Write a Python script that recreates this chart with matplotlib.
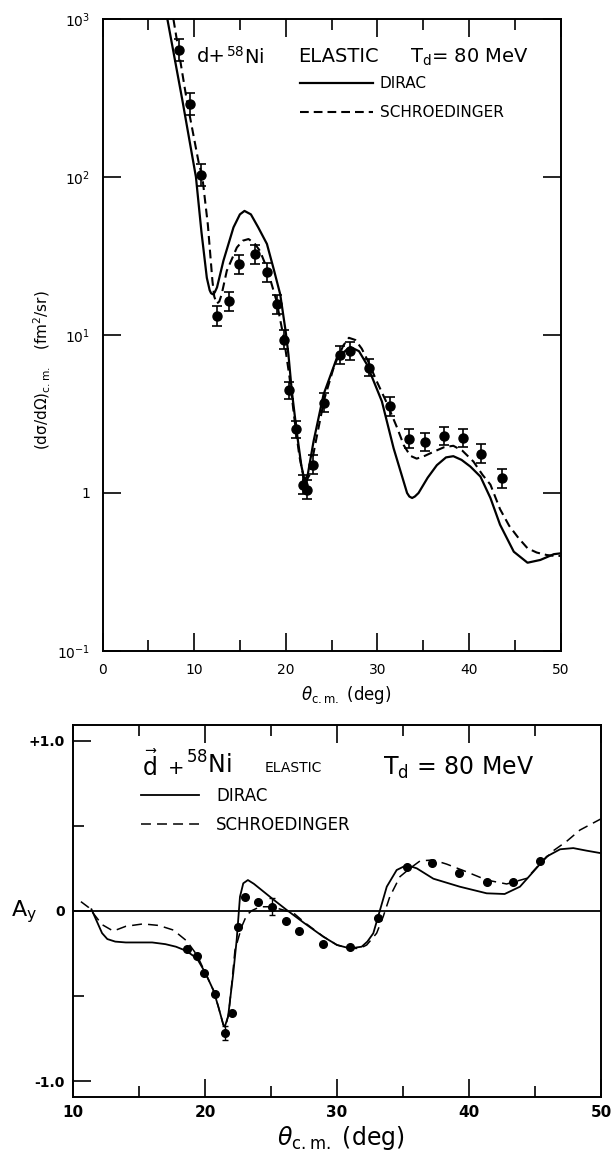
import numpy as np
import matplotlib
matplotlib.use("Agg")
import matplotlib.pyplot as plt
from matplotlib.ticker import FixedLocator, NullLocator

plt.rcParams['font.family'] = ['DejaVu Sans']
plt.rcParams['mathtext.fontset'] = 'dejavusans'

# ---------------- top panel: cross section ----------------
xs_theta = [8.4, 9.56, 10.77, 12.5, 13.8, 14.9, 16.7, 17.98, 19.0, 19.76, 20.35, 21.07,
            21.88, 22.35, 22.93, 24.17, 25.96, 26.98, 29.1, 31.35, 33.46, 35.25, 37.3,
            39.4, 41.37, 43.66]
xs_value = [635, 288, 103, 13.2, 16.4, 28, 32.5, 24.9, 15.7, 9.3, 4.46, 2.53,
            1.13, 1.05, 1.51, 3.72, 7.46, 7.9, 6.2, 3.55, 2.21, 2.10, 2.29,
            2.23, 1.77, 1.24]
xs_err_dex = [0.07, 0.07, 0.07, 0.065, 0.06, 0.06, 0.06, 0.06, 0.06, 0.06, 0.055, 0.055,
              0.06, 0.06, 0.06, 0.06, 0.055, 0.055, 0.055, 0.06, 0.06, 0.055, 0.055,
              0.055, 0.06, 0.06]

dirac_xs_theta = [7.08, 8.72, 10.2, 10.8, 11.39, 11.7, 11.85, 12.04, 12.25, 12.5, 13.2, 14.3,
                  15.0, 15.5, 16.2, 17.0, 17.95, 18.7, 19.4, 20.0, 20.3, 20.67, 21.2, 21.7,
                  22.05, 22.4, 23.04, 24.13, 25.6, 27.05, 28.0, 28.87, 30.5, 31.78, 33.25,
                  33.5, 33.8, 34.1, 34.5, 35.5, 36.5, 37.5, 38.3, 39.2, 40.16, 41.26, 42.35,
                  43.4, 44.9, 46.4, 47.8, 49.27, 50.0]
dirac_xs_value = [1000, 306, 100, 45, 23, 19.2, 18.4, 18.1, 18.6, 20, 29.5, 48,
                  58, 61, 58, 48, 37.7, 26, 18.1, 10.5, 7.5, 4.4, 2.45, 1.5,
                  1.2, 1.3, 2.12, 4.2, 7.2, 8.4, 7.9, 6.5, 3.8, 1.92, 1.0,
                  0.95, 0.93, 0.95, 1.0, 1.25, 1.5, 1.68, 1.71, 1.62, 1.47, 1.27, 0.93,
                  0.63, 0.425, 0.362, 0.377, 0.41, 0.415]

schr_xs_theta = [7.74, 9.2, 10.47, 10.9, 11.5, 12.0, 12.2, 12.48, 12.75, 13.0, 13.57, 14.67,
                 15.3, 15.94, 16.6, 17.2, 18.0, 19.0, 19.8, 20.4, 21.0, 21.5, 22.1, 22.6,
                 23.2, 24.2, 25.3, 26.3, 26.9, 27.6, 28.3, 29.0, 30.0, 30.87, 31.5, 32.15,
                 32.9, 33.6, 34.3, 35.2, 36.2, 37.3, 38.3, 39.3, 40.5, 41.5, 42.35, 43.4,
                 44.4, 45.4, 46.4, 47.4, 48.5, 49.3, 50.0]
schr_xs_value = [1000, 306, 126, 100, 50, 22, 17.5, 15.8, 16.3, 18, 25.5, 35.8,
                 39.5, 40.5, 38, 34, 26, 16.4, 9.5, 5.5, 2.8, 1.7, 1.15, 1.3,
                 2.0, 3.9, 6.4, 8.6, 9.6, 9.3, 8.2, 6.8, 5.0, 3.9, 3.2, 2.6,
                 2.0, 1.72, 1.65, 1.72, 1.83, 1.95, 1.99, 1.85, 1.58, 1.3, 1.13, 0.79,
                 0.62, 0.52, 0.447, 0.42, 0.405, 0.40, 0.40]

# ---------------- bottom panel: analyzing power ----------------
ay_theta = [18.63, 19.4, 19.93, 20.75, 21.5, 22.04, 22.52, 23.03, 24.04, 25.05, 26.14,
            27.1, 28.92, 30.98, 33.08, 35.3, 37.17, 39.26, 41.34, 43.36, 45.38]
ay_value = [-0.226, -0.267, -0.363, -0.489, -0.716, -0.60, -0.094, 0.08, 0.053, 0.025,
            -0.057, -0.12, -0.194, -0.214, -0.043, 0.258, 0.284, 0.225, 0.172, 0.172, 0.292]
ay_err = [0, 0, 0, 0, 0.04, 0, 0, 0, 0, 0.05, 0,
          0, 0, 0, 0, 0, 0, 0, 0, 0, 0]

dirac_ay_theta = [11.4, 11.8, 12.2, 12.6, 13.2, 14.0, 15.0, 16.0, 17.0, 17.8, 18.6, 19.4,
                  20.0, 20.63, 21.0, 21.39, 21.5, 21.75, 22.14, 22.4, 22.65, 22.9, 23.25,
                  23.7, 24.5, 25.3, 26.19, 27.5, 28.96, 30.0, 30.98, 31.87, 32.3, 32.75,
                  33.26, 33.77, 34.52, 35.28, 36.04, 37.3, 39.3, 41.34, 42.7, 43.86, 44.87,
                  45.88, 46.9, 47.9, 48.9, 50.0]
dirac_ay_value = [0.01, -0.06, -0.13, -0.165, -0.18, -0.185, -0.185, -0.185, -0.195, -0.21,
                  -0.235, -0.28, -0.36, -0.465, -0.56, -0.67, -0.68, -0.62, -0.367, -0.17,
                  0.084, 0.163, 0.182, 0.16, 0.11, 0.06, 0.006, -0.07, -0.151, -0.2, -0.22,
                  -0.21, -0.18, -0.131, 0.006, 0.143, 0.241, 0.27, 0.251, 0.19, 0.143, 0.104,
                  0.10, 0.143, 0.231, 0.32, 0.363, 0.37, 0.355, 0.34]

schr_ay_theta = [10.6, 11.2, 11.6, 12.2, 13.05, 14.0, 15.3, 16.5, 17.6, 18.6, 19.4, 20.0,
                 20.63, 21.0, 21.39, 21.55, 21.8, 22.0, 22.27, 22.78, 23.16, 23.54, 24.17,
                 25.05, 26.2, 26.8, 27.5, 28.96, 30.0, 30.98, 31.74, 32.25, 33.0, 33.5,
                 34.0, 34.77, 35.53, 36.3, 37.3, 38.3, 39.8, 41.34, 42.85, 44.37, 45.4,
                 46.4, 47.4, 48.4, 50.0]
schr_ay_value = [0.055, 0.02, -0.02, -0.08, -0.118, -0.09, -0.076, -0.085, -0.112, -0.175,
                 -0.26, -0.36, -0.465, -0.56, -0.67, -0.685, -0.6, -0.45, -0.23, -0.092,
                 -0.024, 0.002, 0.025, 0.025, 0.0, -0.018, -0.065, -0.15, -0.2, -0.22,
                 -0.22, -0.2, -0.131, -0.033, 0.084, 0.202, 0.251, 0.295, 0.30, 0.276,
                 0.231, 0.182, 0.159, 0.192, 0.28, 0.355, 0.41, 0.476, 0.542]

W, H = 615, 1158
fig = plt.figure(figsize=(W / 100, H / 100), dpi=100)


def fx(px):
    return px / W


def fy(py):
    return 1 - py / H


# ======== top axes ========
ax1 = fig.add_axes([fx(102.5), fy(651), fx(560.5) - fx(102.5), fy(19) - fy(651)])
ax1.set_yscale('log')
ax1.set_xlim(0, 50)
ax1.set_ylim(0.1, 1000)

ax1.plot(dirac_xs_theta, dirac_xs_value, color='black', lw=1.6, solid_joinstyle='round',
         label='DIRAC')
ax1.plot(schr_xs_theta, schr_xs_value, color='black', lw=1.5, dashes=(4.2, 2.4),
         label='SCHROEDINGER')

v = np.array(xs_value, dtype=float)
e = np.array(xs_err_dex, dtype=float)
lo = v - v / 10 ** e
hi = v * 10 ** e - v
ax1.errorbar(xs_theta, xs_value, yerr=[lo, hi], fmt='o', color='black', ms=6.5,
             capsize=3.5, elinewidth=1.2, capthick=1.2, zorder=5)

ax1.xaxis.set_major_locator(FixedLocator([0, 10, 20, 30, 40, 50]))
ax1.xaxis.set_minor_locator(FixedLocator([5, 15, 25, 35, 45]))
ax1.set_xticklabels(['0', '10', '20', '30', '40', '50'])
ax1.yaxis.set_major_locator(FixedLocator([0.1, 1, 10, 100, 1000]))
ax1.yaxis.set_minor_locator(NullLocator())
ax1.set_yticklabels([r'$\mathregular{10^{-1}}$', '1', r'$\mathregular{10^{1}}$',
                     r'$\mathregular{10^{2}}$', r'$\mathregular{10^{3}}$'])
ax1.tick_params(which='both', direction='in', top=True, right=True, width=1.2)
ax1.tick_params(which='major', length=13)
ax1.tick_params(which='minor', length=8)
ax1.tick_params(axis='x', which='major', labelsize=10, pad=9)
ax1.tick_params(axis='y', which='major', labelsize=10, pad=9)
for s in ax1.spines.values():
    s.set_linewidth(1.4)

leg1 = ax1.legend(loc='upper left', bbox_to_anchor=(fx(300), fy(76)),
                  bbox_transform=fig.transFigure, frameon=False, fontsize=11,
                  handlelength=4.77, handletextpad=0.45, labelspacing=0.93,
                  borderpad=0, borderaxespad=0)

fig.text(fx(197), fy(57), 'd+', fontsize=14, ha='left', va='center')
fig.text(fx(226), fy(57), r'$\mathregular{^{58}}$Ni', fontsize=14, ha='left', va='center')
fig.text(fx(298), fy(57), 'ELASTIC', fontsize=14, ha='left', va='center')
fig.text(fx(410), fy(57), r'T$_{\mathregular{d}}$= 80 MeV', fontsize=14, ha='left',
         va='center')

fig.text(fx(42), fy(370), r'$\mathregular{(d\sigma/d\Omega)_{c.m.}}$   (fm$^{\mathregular{2}}$/sr)',
         rotation=90, fontsize=11, ha='center', va='center')
fig.text(fx(346), fy(695), r'$\theta_{\mathregular{c.m.}}$ (deg)', fontsize=12,
         ha='center', va='center')

# ======== bottom axes ========
ax2 = fig.add_axes([fx(73), fy(1097), fx(601) - fx(73), fy(725) - fy(1097)])
ax2.set_xlim(10, 50)
ax2.set_ylim(-1.094, 1.094)
ax2.axhline(0, color='black', lw=1.3)

ax2.plot(dirac_ay_theta, dirac_ay_value, color='black', lw=1.3, label='DIRAC')
ax2.plot(schr_ay_theta, schr_ay_value, color='black', lw=1.1, dashes=(6.5, 4),
         label='SCHROEDINGER')
ax2.errorbar(ay_theta, ay_value, yerr=ay_err, fmt='o', color='black', ms=5.5,
             capsize=2.5, elinewidth=1.0, capthick=1.0, zorder=5)

ax2.xaxis.set_major_locator(FixedLocator([10, 20, 30, 40, 50]))
ax2.xaxis.set_minor_locator(FixedLocator([15, 25, 35, 45]))
ax2.set_xticklabels(['10', '20', '30', '40', '50'])
ax2.yaxis.set_major_locator(FixedLocator([-1.0, 0.0, 1.0]))
ax2.yaxis.set_minor_locator(FixedLocator([-0.5, 0.5]))
ax2.set_yticklabels(['-1.0', '0', '+1.0'])
ax2.tick_params(which='both', direction='in', top=True, right=False, width=1.2)
ax2.tick_params(which='major', length=13)
ax2.tick_params(which='minor', length=8)
ax2.tick_params(axis='x', which='major', labelsize=11, pad=6)
ax2.tick_params(axis='y', which='major', labelsize=10, pad=6)
for lab in ax2.get_xticklabels() + ax2.get_yticklabels():
    lab.set_fontweight('bold')
for s in ax2.spines.values():
    s.set_linewidth(1.4)

leg2 = ax2.legend(loc='upper left', bbox_to_anchor=(fx(141), fy(787)),
                  bbox_transform=fig.transFigure, frameon=False, fontsize=12,
                  handlelength=3.5, handletextpad=1.0, labelspacing=0.64,
                  borderpad=0, borderaxespad=0)

fig.text(fx(142), fy(766), r'$\vec{\mathrm{d}}$', fontsize=17, ha='left', va='center')
fig.text(fx(168), fy(768), '+', fontsize=14, ha='left', va='center')
fig.text(fx(186), fy(765), r'$\mathregular{^{58}}$Ni', fontsize=17, ha='left', va='center')
fig.text(fx(265), fy(768), 'ELASTIC', fontsize=10, ha='left', va='center')
fig.text(fx(383), fy(768), r'T$_{\mathregular{d}}$ = 80 MeV', fontsize=17, ha='left',
         va='center')

fig.text(fx(24), fy(912), r'A$_{\mathregular{y}}$', fontsize=16, ha='center', va='center')
fig.text(fx(341), fy(1138), r'$\theta_{\mathregular{c.m.}}$ (deg)', fontsize=17,
         ha='center', va='center')

fig.savefig('out.png', dpi=100, facecolor='white')
